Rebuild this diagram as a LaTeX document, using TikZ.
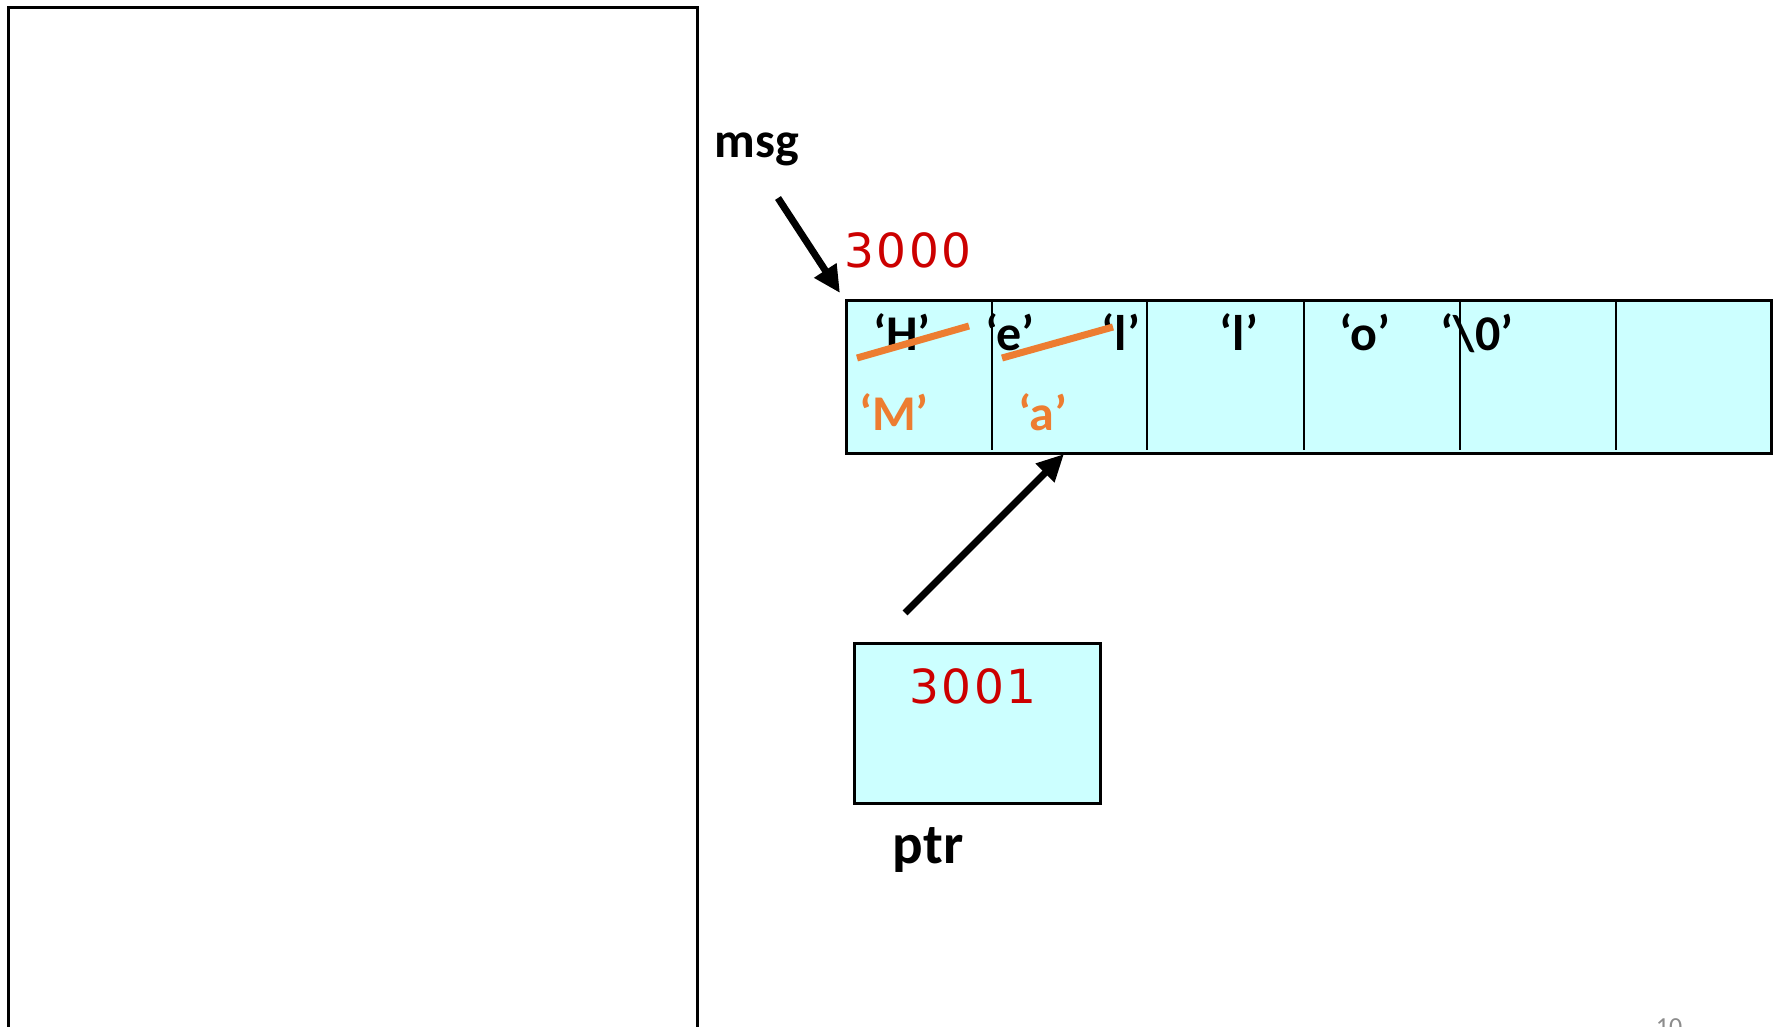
\documentclass[tikz,border=0pt]{standalone}
\usepackage{fontspec}
\setmainfont{Carlito}
\newfontfamily\addrfont[LetterSpace=5]{DejaVu Sans}
\usetikzlibrary{arrows.meta}
\definecolor{cellfill}{HTML}{CCFFFF}
\definecolor{addrred}{HTML}{CC0000}
\definecolor{editorange}{HTML}{ED7D31}
\definecolor{pagegray}{HTML}{8C8C8C}
\begin{document}
\begin{tikzpicture}[x=1pt,y=-1pt,
  char/.style={font=\fontsize{50}{54}\selectfont\bfseries, inner sep=0pt, anchor=base},
  newchar/.style={char, text=editorange},
  varname/.style={font=\fontsize{#1}{#1}\selectfont\bfseries, inner sep=0pt, anchor=base},
  addr/.style={font=\addrfont\fontsize{47}{50}\selectfont, text=addrred, inner sep=0pt, anchor=base},
  pointer/.style={line width=7pt, -{Triangle[length=27pt,width=25pt]}},
  strike/.style={draw=editorange, line width=7pt},
  memcell/.style={draw, line width=3pt, fill=cellfill, inner sep=0pt, anchor=north west},
  divider/.style={line width=2.5pt}
]
\useasboundingbox (0,0) rectangle (1776,1026);

% stack frame outline, running off the bottom edge
\draw[line width=3pt] (8,1040) -- (8,7) -- (697,7) -- (697,1040);

% the character array
\node[memcell, minimum width=925pt, minimum height=153pt] (arr) at (845,299) {};
\foreach \x in {992,1147,1304,1460,1616}
  \draw[divider] (\x,300) -- (\x,450);

% pointer variable
\node[memcell, minimum width=246pt, minimum height=160pt] (ptrbox) at (853,642) {};

% contents of the array
\node[char] (c0) at (902,350) {‘H’};
\node[char] (c1) at (1010,350) {‘e’};
\node[char] (c2) at (1121,350) {‘l’};
\node[char] (c3) at (1239,350) {‘l’};
\node[char] (c4) at (1365,350) {‘o’};
\node[char] (c5) at (1477,350) {‘\textbackslash 0’};

% overwritten characters
\draw[strike] (857,358) -- (969,326);
\draw[strike] (1002,358) -- (1113,327);
\node[newchar] (n0) at (894,430) {‘M’};
\node[newchar] (n1) at (1043,430) {‘a’};

% names and addresses
\node[varname=50] (msg) at (757,157) {msg};
\node[addr] (a0) at (908,267) {3000};
\node[addr] (a1) at (973,703) {3001};
\node[varname=57] (ptr) at (928,863) {ptr};

% pointer arrows
\coordinate (msgtail) at (778,198);
\coordinate (msgtip) at (840,293);
\draw[pointer] (msgtail) -- (msgtip);
\coordinate (ptrtail) at (905,613);
\coordinate (ptrtip) at (1064,454);
\draw[pointer] (ptrtail) -- (ptrtip);

% page number, cut by the lower edge
\node[font=\fontsize{26}{26}\selectfont, text=pagegray, inner sep=0pt, anchor=north] (pg) at (1669,1018) {10};
\end{tikzpicture}
\end{document}
